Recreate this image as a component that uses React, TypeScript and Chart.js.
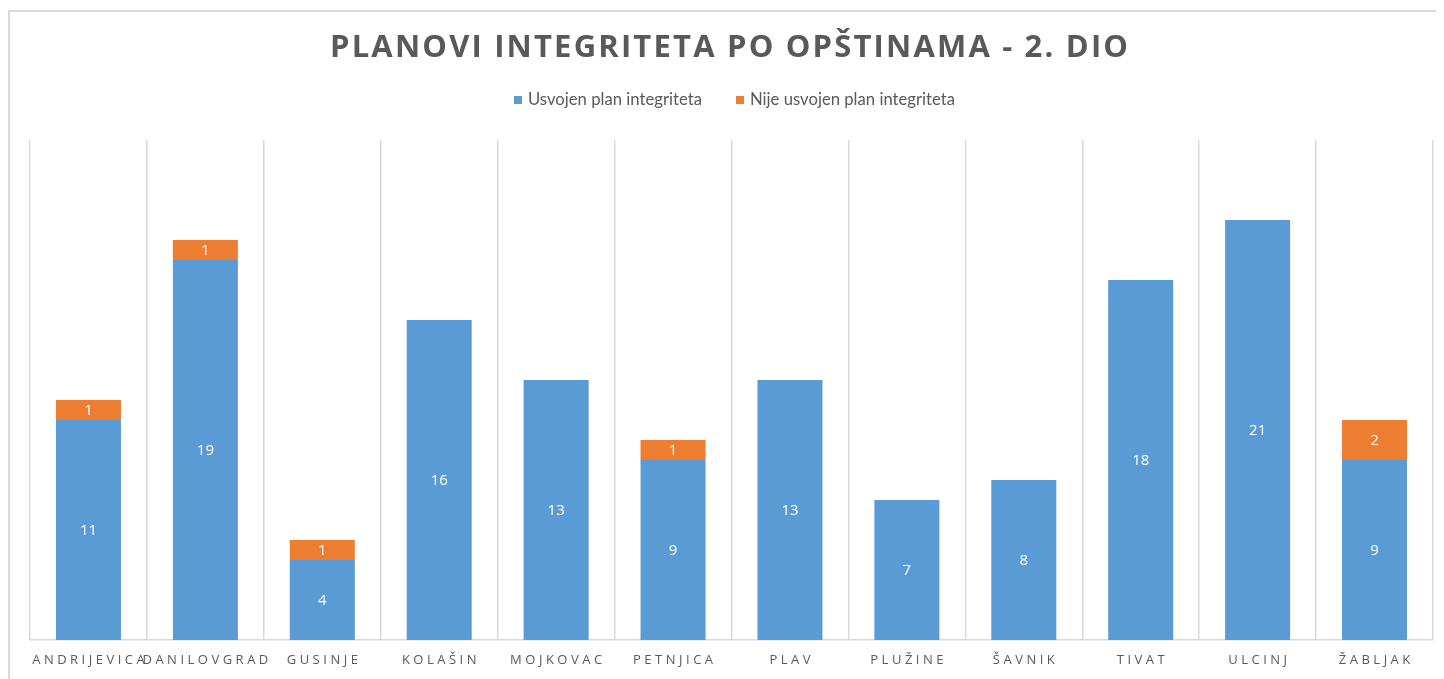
import React, { useEffect, useRef } from "react";
import { Chart, registerables } from "chart.js";

Chart.register(...registerables);

const titleText = "PLANOVI INTEGRITETA PO OPŠTINAMA - 2. DIO";
const categories = [
  "ANDRIJEVICA",
  "DANILOVGRAD",
  "GUSINJE",
  "KOLAŠIN",
  "MOJKOVAC",
  "PETNJICA",
  "PLAV",
  "PLUŽINE",
  "ŠAVNIK",
  "TIVAT",
  "ULCINJ",
  "ŽABLJAK",
];
const seriesNames = ["Usvojen plan integriteta", "Nije usvojen plan integriteta"];
const adopted = [11, 19, 4, 16, 13, 9, 13, 7, 8, 18, 21, 9];
const notAdopted = [1, 1, 1, 0, 0, 1, 0, 0, 0, 0, 0, 2];
const colors = ["#5B9BD5", "#ED7D31"];
const yMax = 25;

const TEXT_GREY = "#595959";

const decorPlugin = {
  id: "decor",
  afterDraw(chart: any) {
    const ctx = chart.ctx as any;
    // Title
    ctx.save();
    ctx.fillStyle = TEXT_GREY;
    ctx.font = "bold 31px 'Open Sans'";
    ctx.textBaseline = "middle";
    ctx.textAlign = "left";
    const targetW = 798;
    ctx.letterSpacing = "0px";
    const raw = ctx.measureText(titleText).width;
    const n = titleText.length;
    const sp = Math.max(0, (targetW - raw) / (n - 1));
    ctx.letterSpacing = sp + "px";
    ctx.fillText(titleText, 719 - targetW / 2, 36);
    ctx.restore();

    // Legend
    const legendX = [504, 726];
    const legendTextW = [174, 205];
    const legendY = 88;
    seriesNames.forEach((name, i) => {
      ctx.save();
      ctx.fillStyle = colors[i];
      ctx.fillRect(legendX[i], legendY - 4, 8, 8);
      ctx.font = "17px Lato";
      ctx.textBaseline = "middle";
      ctx.textAlign = "left";
      ctx.fillStyle = TEXT_GREY;
      const w = ctx.measureText(name).width;
      const sx = legendTextW[i] / w;
      ctx.translate(legendX[i] + 14, legendY);
      ctx.scale(sx, 1);
      ctx.fillText(name, 0, 0);
      ctx.restore();
    });

    // X labels
    const xs = chart.scales.x;
    ctx.save();
    ctx.font = "13px 'Open Sans'";
    ctx.fillStyle = TEXT_GREY;
    ctx.textBaseline = "middle";
    ctx.textAlign = "left";
    ctx.letterSpacing = "3.5px";
    categories.forEach((c, i) => {
      const w = ctx.measureText(c).width - 3.5;
      ctx.fillText(c, xs.getPixelForValue(i) - w / 2, 648);
    });
    ctx.restore();

    // Data labels
    ctx.save();
    ctx.font = "15px 'Open Sans'";
    ctx.fillStyle = "#FFFFFF";
    ctx.textBaseline = "middle";
    ctx.textAlign = "center";
    chart.data.datasets.forEach((ds: any, di: number) => {
      const meta = chart.getDatasetMeta(di);
      meta.data.forEach((bar: any, i: number) => {
        const v = ds.data[i];
        if (!v) return;
        const { x, y, base } = bar.getProps(["x", "y", "base"], true);
        ctx.fillText(String(v), x, (y + base) / 2 + 1);
      });
    });
    ctx.restore();
  },
};

export default function App() {
  const ref = useRef<HTMLCanvasElement | null>(null);
  useEffect(() => {
    document.body.style.overflow = "hidden";
    document.documentElement.style.overflow = "hidden";
    const chart = new Chart(ref.current as HTMLCanvasElement, {
      type: "bar",
      data: {
        labels: categories,
        datasets: [
          {
            label: seriesNames[0],
            data: adopted,
            backgroundColor: colors[0],
            barPercentage: 0.556,
            categoryPercentage: 1.0,
          },
          {
            label: seriesNames[1],
            data: notAdopted,
            backgroundColor: colors[1],
            barPercentage: 0.556,
            categoryPercentage: 1.0,
          },
        ],
      },
      options: {
        responsive: false,
        animation: false,
        layout: { padding: { left: 20, right: 11, top: 128, bottom: 39 } },
        plugins: {
          legend: { display: false },
          title: { display: false },
          tooltip: { enabled: false },
        },
        scales: {
          x: {
            stacked: true,
            grid: {
              display: true,
              color: "#D9D9D9",
              lineWidth: 1.5,
              drawTicks: false,
              offset: true,
            },
            border: { display: true, color: "#D9D9D9", width: 1.5 },
            ticks: { display: false },
          },
          y: {
            stacked: true,
            display: false,
            min: 0,
            max: yMax,
          },
        },
      },
      plugins: [decorPlugin],
    });
    (document as any).fonts?.ready?.then(() => chart.update());
    return () => chart.destroy();
  }, []);
  return (
    <div
      style={{
        marginTop: 2,
        width: 1436,
        height: 669,
        boxSizing: "border-box",
        borderLeft: "2px solid #D9D9D9",
        borderTop: "2px solid #D9D9D9",
        background: "#FFFFFF",
      }}
    >
      <canvas ref={ref} width={1434} height={667} style={{ display: "block" }} />
    </div>
  );
}
